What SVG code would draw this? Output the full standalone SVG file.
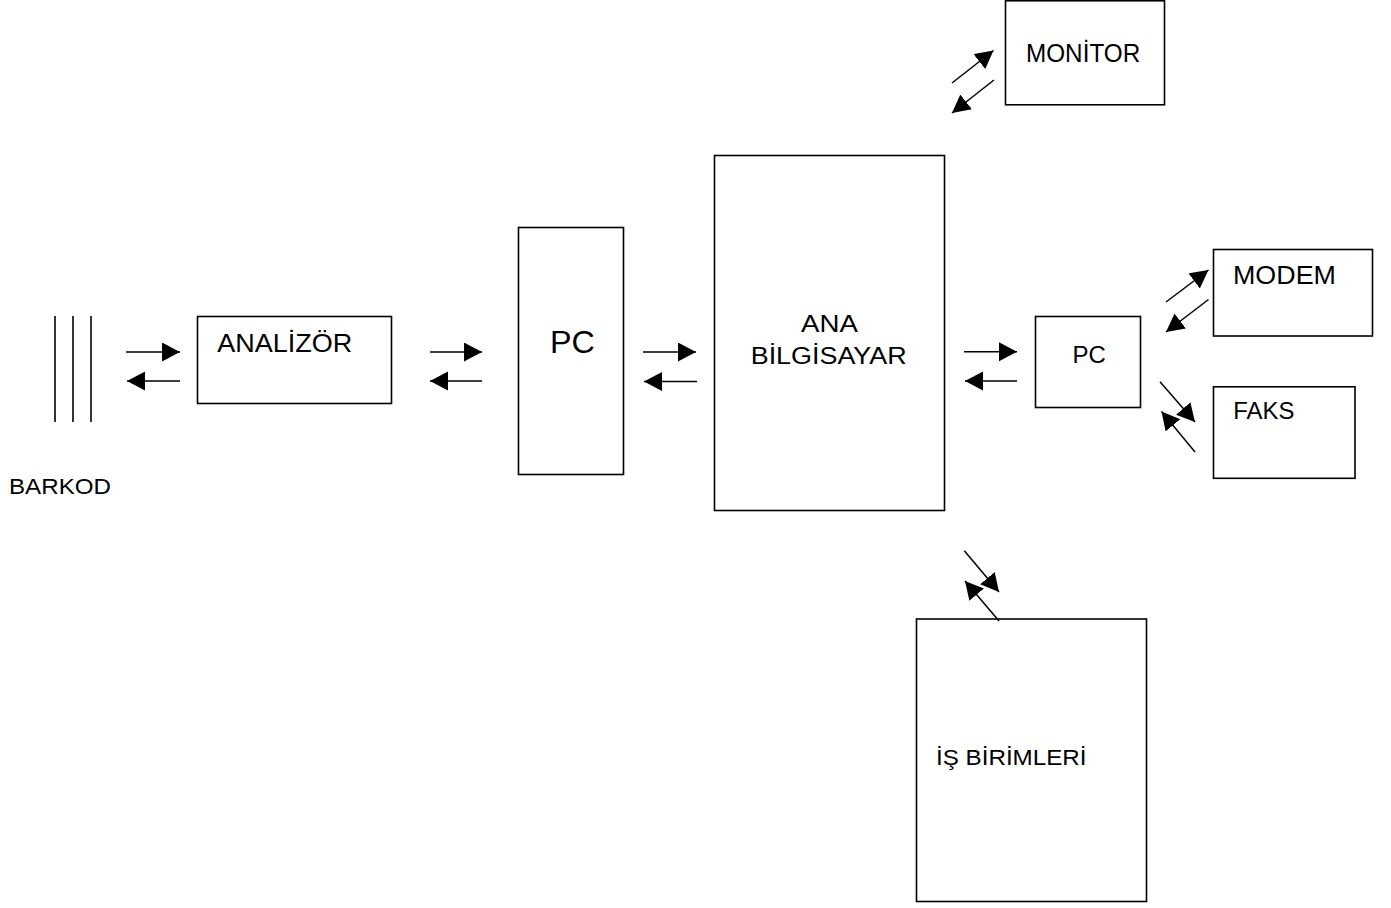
<svg xmlns="http://www.w3.org/2000/svg" width="1391" height="908" viewBox="0 0 1391 908">
<defs>
<marker id="ah" markerUnits="userSpaceOnUse" markerWidth="19" markerHeight="20" refX="18" refY="9.5" orient="auto" viewBox="0 0 19 20">
<path d="M0,0 L18,9.5 L0,19 z" fill="#000"/>
</marker>
<style>
.box{fill:#fff;stroke:#000;stroke-width:1.6}
.bar{stroke:#000;stroke-width:1.6}
.cn line{stroke:#000;stroke-width:1.5;marker-end:url(#ah)}
text{font-family:"Liberation Sans",Arial,sans-serif;fill:#000}
</style>
</defs>
<rect width="1391" height="908" fill="#fff"/>
<g id="barkod">
<line class="bar" x1="55" y1="316" x2="55" y2="422"/>
<line class="bar" x1="73" y1="316" x2="73" y2="422"/>
<line class="bar" x1="91" y1="316" x2="91" y2="422"/>
<text transform="translate(9,494) scale(1.098,1)" font-size="22">BARKOD</text>
</g>
<g id="analizor">
<rect class="box" x="197.5" y="316.5" width="194" height="87"/>
<text transform="translate(217.3,351.7) scale(1.059,1)" font-size="25.5">ANALİZÖR</text>
</g>
<g id="pc1">
<rect class="box" x="518.5" y="227.5" width="105" height="247"/>
<text transform="translate(550,353.3) scale(1.01,1)" font-size="32">PC</text>
</g>
<g id="anabilgisayar">
<rect class="box" x="714.5" y="155.5" width="230" height="355"/>
<text transform="translate(801,331.7) scale(1.13,1)" font-size="24.5">ANA</text>
<text transform="translate(750.7,364.3) scale(1.098,1)" font-size="24.5">BİLGİSAYAR</text>
</g>
<g id="pc2">
<rect class="box" x="1035.5" y="316.5" width="105" height="91"/>
<text transform="translate(1072.5,362.7)" font-size="24">PC</text>
</g>
<g id="monitor">
<rect class="box" x="1005.5" y="0.8" width="159" height="104"/>
<text transform="translate(1026,61.7) scale(0.953,1)" font-size="25.5">MONİTOR</text>
</g>
<g id="modem">
<rect class="box" x="1213.5" y="249.5" width="159" height="86.5"/>
<text transform="translate(1233,284) scale(1.075,1)" font-size="25">MODEM</text>
</g>
<g id="faks">
<rect class="box" x="1213.5" y="386.8" width="141.5" height="91.5"/>
<text transform="translate(1233.3,419.3) scale(1.04,1)" font-size="23">FAKS</text>
</g>
<g id="isbirimleri">
<rect class="box" x="916.5" y="619" width="230" height="282.5"/>
<text transform="translate(936,765) scale(1.1,1)" font-size="22">İŞ BİRİMLERİ</text>
</g>
<g id="connectors" class="cn">
<line x1="126" y1="352" x2="180" y2="352"/>
<line x1="180" y1="381" x2="127" y2="381"/>
<line x1="430" y1="352" x2="482" y2="352"/>
<line x1="482" y1="381" x2="430" y2="381"/>
<line x1="643" y1="352" x2="696" y2="352"/>
<line x1="697" y1="381.5" x2="644" y2="381.5"/>
<line x1="964" y1="351.7" x2="1017" y2="351.7"/>
<line x1="1017" y1="381" x2="965" y2="381"/>
<line x1="952" y1="83" x2="993.5" y2="50.5"/>
<line x1="994" y1="80" x2="952" y2="113"/>
<line x1="1166" y1="302" x2="1208.5" y2="270"/>
<line x1="1208.5" y1="299.5" x2="1166" y2="332"/>
<line x1="1160" y1="381.7" x2="1195" y2="422"/>
<line x1="1195" y1="452" x2="1161.5" y2="411.5"/>
<line x1="964.3" y1="550.7" x2="999" y2="592"/>
<line x1="999" y1="621" x2="965" y2="581"/>
</g>
</svg>
